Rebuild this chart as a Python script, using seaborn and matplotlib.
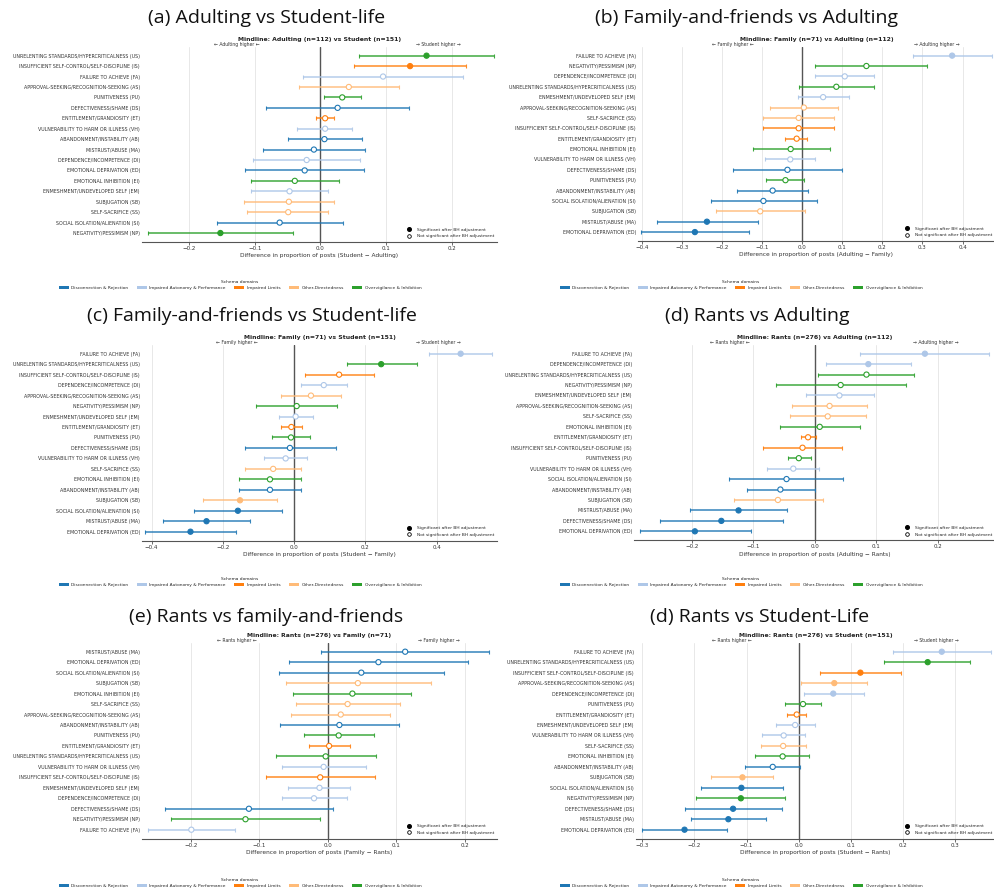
import numpy as np
import pandas as pd
import seaborn as sns
import matplotlib.pyplot as plt
from matplotlib.lines import Line2D
from matplotlib.patches import Patch
from matplotlib.ticker import MultipleLocator

names = {
    "US": "UNRELENTING STANDARDS/HYPERCRITICALNESS (US)",
    "IS": "INSUFFICIENT SELF-CONTROL/SELF-DISCIPLINE (IS)",
    "FA": "FAILURE TO ACHIEVE (FA)",
    "AS": "APPROVAL-SEEKING/RECOGNITION-SEEKING (AS)",
    "PU": "PUNITIVENESS (PU)",
    "DS": "DEFECTIVENESS/SHAME (DS)",
    "ET": "ENTITLEMENT/GRANDIOSITY (ET)",
    "VH": "VULNERABILITY TO HARM OR ILLNESS (VH)",
    "AB": "ABANDONMENT/INSTABILITY (AB)",
    "MA": "MISTRUST/ABUSE (MA)",
    "DI": "DEPENDENCE/INCOMPETENCE (DI)",
    "ED": "EMOTIONAL DEPRIVATION (ED)",
    "EI": "EMOTIONAL INHIBITION (EI)",
    "EM": "ENMESHMENT/UNDEVELOPED SELF (EM)",
    "SB": "SUBJUGATION (SB)",
    "SS": "SELF-SACRIFICE (SS)",
    "SI": "SOCIAL ISOLATION/ALIENATION (SI)",
    "NP": "NEGATIVITY/PESSIMISM (NP)",
}
domains = ["Disconnection & Rejection", "Impaired Autonomy & Performance",
           "Impaired Limits", "Other-Directedness", "Overvigilance & Inhibition"]
domain_codes = [["AB", "MA", "ED", "DS", "SI"], ["DI", "VH", "EM", "FA"],
                ["ET", "IS"], ["SB", "SS", "AS"], ["NP", "EI", "US", "PU"]]
domain_colors = ["#1f77b4", "#aec7e8", "#ff7f0e", "#ffbb78", "#2ca02c"]

# (a) Adulting vs Student
a_codes = ["US", "IS", "FA", "AS", "PU", "DS", "ET", "VH", "AB", "MA", "DI", "ED", "EI", "EM", "SB", "SS", "SI", "NP"]
a_diff = [0.161, 0.136, 0.095, 0.043, 0.033, 0.026, 0.007, 0.007, 0.006, -0.010, -0.021, -0.024, -0.039, -0.047, -0.048, -0.049, -0.062, -0.152]
a_lo = [0.059, 0.051, -0.026, -0.032, 0.005, -0.083, -0.007, -0.036, -0.050, -0.087, -0.102, -0.114, -0.106, -0.105, -0.116, -0.111, -0.157, -0.262]
a_hi = [0.264, 0.221, 0.216, 0.119, 0.062, 0.135, 0.020, 0.048, 0.063, 0.068, 0.060, 0.066, 0.028, 0.011, 0.021, 0.012, 0.034, -0.042]
a_sig = [1, 1, 0, 0, 0, 0, 0, 0, 0, 0, 0, 0, 0, 0, 0, 0, 0, 1]

# (b) Family vs Adulting
b_codes = ["FA", "NP", "DI", "US", "EM", "AS", "SS", "IS", "ET", "EI", "VH", "DS", "PU", "AB", "SI", "SB", "MA", "ED"]
b_diff = [0.374, 0.160, 0.106, 0.085, 0.052, 0.004, -0.009, -0.009, -0.014, -0.029, -0.030, -0.037, -0.042, -0.074, -0.097, -0.105, -0.238, -0.268]
b_lo = [0.276, 0.033, 0.033, -0.009, -0.011, -0.080, -0.098, -0.098, -0.042, -0.124, -0.092, -0.172, -0.090, -0.162, -0.228, -0.215, -0.362, -0.403]
b_hi = [0.474, 0.312, 0.180, 0.180, 0.116, 0.088, 0.078, 0.078, 0.013, 0.068, 0.033, 0.098, 0.005, 0.014, 0.037, 0.007, -0.110, -0.133]
b_sig = [1, 0, 0, 0, 0, 0, 0, 0, 0, 0, 0, 0, 0, 0, 0, 0, 1, 1]

# (c) Family vs Student
c_codes = ["FA", "US", "IS", "DI", "AS", "NP", "EM", "ET", "PU", "DS", "VH", "SS", "EI", "AB", "SB", "SI", "MA", "ED"]
c_diff = [0.467, 0.244, 0.126, 0.083, 0.047, 0.007, 0.004, -0.008, -0.009, -0.012, -0.024, -0.059, -0.068, -0.068, -0.152, -0.158, -0.246, -0.291]
c_lo = [0.379, 0.147, 0.030, 0.019, -0.036, -0.106, -0.044, -0.038, -0.063, -0.139, -0.084, -0.137, -0.154, -0.154, -0.255, -0.281, -0.368, -0.419]
c_hi = [0.556, 0.344, 0.223, 0.147, 0.131, 0.120, 0.053, 0.022, 0.044, 0.117, 0.037, 0.018, 0.019, 0.019, -0.049, -0.035, -0.124, -0.163]
c_sig = [1, 1, 0, 0, 0, 0, 0, 0, 0, 0, 0, 0, 0, 0, 1, 1, 1, 1]

# (d) Rants vs Adulting
d_codes = ["FA", "DI", "US", "NP", "EM", "AS", "SS", "EI", "ET", "IS", "PU", "VH", "SI", "AB", "SB", "MA", "DS", "ED"]
d_diff = [0.179, 0.087, 0.084, 0.042, 0.040, 0.024, 0.021, 0.008, -0.011, -0.020, -0.026, -0.035, -0.046, -0.056, -0.060, -0.124, -0.152, -0.195]
d_lo = [0.074, 0.019, 0.005, -0.063, -0.015, -0.037, -0.040, -0.057, -0.023, -0.085, -0.044, -0.077, -0.140, -0.111, -0.132, -0.203, -0.252, -0.285]
d_hi = [0.283, 0.156, 0.161, 0.148, 0.097, 0.085, 0.083, 0.073, 0.002, 0.045, -0.007, 0.007, 0.046, 0.000, 0.013, -0.045, -0.051, -0.103]
d_sig = [1, 1, 0, 0, 0, 0, 0, 0, 0, 0, 0, 0, 0, 0, 0, 1, 1, 1]

# (e) Rants vs Family
e_codes = ["MA", "ED", "SI", "SB", "EI", "SS", "AS", "AB", "PU", "ET", "US", "VH", "IS", "EM", "DI", "DS", "NP", "FA"]
e_diff = [0.113, 0.074, 0.049, 0.044, 0.036, 0.029, 0.019, 0.017, 0.016, 0.002, -0.003, -0.006, -0.011, -0.012, -0.020, -0.115, -0.120, -0.199]
e_lo = [-0.010, -0.056, -0.071, -0.061, -0.050, -0.047, -0.053, -0.069, -0.035, -0.028, -0.076, -0.067, -0.090, -0.058, -0.066, -0.238, -0.228, -0.262]
e_hi = [0.236, 0.204, 0.169, 0.150, 0.122, 0.106, 0.091, 0.104, 0.068, 0.033, 0.071, 0.056, 0.069, 0.033, 0.028, 0.007, -0.011, -0.135]
e_sig = [0] * 18

# (f) Rants vs Student
f_codes = ["FA", "US", "IS", "AS", "DI", "PU", "ET", "EM", "VH", "SS", "EI", "AB", "SB", "SI", "NP", "DS", "MA", "ED"]
f_diff = [0.274, 0.247, 0.118, 0.068, 0.066, 0.008, -0.004, -0.007, -0.029, -0.030, -0.031, -0.050, -0.108, -0.110, -0.111, -0.126, -0.135, -0.219]
f_lo = [0.180, 0.164, 0.041, 0.005, 0.010, -0.027, -0.022, -0.044, -0.070, -0.073, -0.083, -0.104, -0.168, -0.188, -0.197, -0.219, -0.206, -0.300]
f_hi = [0.369, 0.329, 0.195, 0.131, 0.124, 0.042, 0.014, 0.031, 0.012, 0.014, 0.020, 0.003, -0.050, -0.031, -0.026, -0.032, -0.063, -0.138]
f_sig = [1, 1, 1, 1, 1, 0, 0, 0, 0, 0, 0, 0, 1, 1, 1, 1, 1, 1]

panels = [
    dict(codes=a_codes, diff=a_diff, lo=a_lo, hi=a_hi, sig=a_sig,
         title="(a) Adulting vs Student-life",
         mind="Mindline: Adulting (n=112) vs Student (n=151)",
         left="\u2190 Adulting higher \u2190", right="\u2192 Student higher \u2192",
         xlabel="Difference in proportion of posts (Student \u2212 Adulting)",
         xlim=(-0.271, 0.268), step=0.1, box=(142, 46.7, 497, 242), tx=267, ty=18, leg=(240, 285)),
    dict(codes=b_codes, diff=b_diff, lo=b_lo, hi=b_hi, sig=b_sig,
         title="(b) Family-and-friends vs Adulting",
         mind="Mindline: Family (n=71) vs Adulting (n=112)",
         left="\u2190 Family higher \u2190", right="\u2192 Adulting higher \u2192",
         xlabel="Difference in proportion of posts (Adulting \u2212 Family)",
         xlim=(-0.41, 0.481), step=0.1, box=(638, 46.7, 995, 241), tx=747, ty=18, leg=(741, 285)),
    dict(codes=c_codes, diff=c_diff, lo=c_lo, hi=c_hi, sig=c_sig,
         title="(c) Family-and-friends vs Student-life",
         mind="Mindline: Family (n=71) vs Student (n=151)",
         left="\u2190 Family higher \u2190", right="\u2192 Student higher \u2192",
         xlabel="Difference in proportion of posts (Student \u2212 Family)",
         xlim=(-0.427, 0.569), step=0.2, box=(142, 344.7, 497, 540.7), tx=252, ty=316, leg=(240, 582)),
    dict(codes=d_codes, diff=d_diff, lo=d_lo, hi=d_hi, sig=d_sig,
         title="(d) Rants vs Adulting",
         mind="Mindline: Rants (n=276) vs Adulting (n=112)",
         left="\u2190 Rants higher \u2190", right="\u2192 Adulting higher \u2192",
         xlabel="Difference in proportion of posts (Adulting \u2212 Rants)",
         xlim=(-0.294, 0.293), step=0.1, box=(634, 344.7, 995, 540.3), tx=757, ty=316, leg=(741, 582)),
    dict(codes=e_codes, diff=e_diff, lo=e_lo, hi=e_hi, sig=e_sig,
         title="(e) Rants vs family-and-friends",
         mind="Mindline: Rants (n=276) vs Family (n=71)",
         left="\u2190 Rants higher \u2190", right="\u2192 Family higher \u2192",
         xlabel="Difference in proportion of posts (Family \u2212 Rants)",
         xlim=(-0.271, 0.247), step=0.1, box=(142, 642.7, 497, 838.7), tx=266, ty=617, leg=(240, 883)),
    dict(codes=f_codes, diff=f_diff, lo=f_lo, hi=f_hi, sig=f_sig,
         title="(d) Rants vs Student-Life",
         mind="Mindline: Rants (n=276) vs Student (n=151)",
         left="\u2190 Rants higher \u2190", right="\u2192 Student higher \u2192",
         xlabel="Difference in proportion of posts (Student \u2212 Rants)",
         xlim=(-0.312, 0.376), step=0.1, box=(636, 642.7, 995, 838.7), tx=760, ty=617, leg=(741, 883)),
]

W, H = 995, 890
sns.set_theme(style="white")
plt.rcParams["font.family"] = ["DejaVu Sans"]

code_domain = {c: d for d, cs in zip(domains, domain_codes) for c in cs}
palette = dict(zip(domains, domain_colors))

fig = plt.figure(figsize=(W / 100, H / 100), dpi=100)

for p in panels:
    l, t, r, b = p["box"]
    ax = fig.add_axes([l / W, 1 - b / H, (r - l) / W, (b - t) / H])
    df = pd.DataFrame({"code": p["codes"], "diff": p["diff"], "lo": p["lo"],
                       "hi": p["hi"], "sig": p["sig"]})
    df["y"] = np.arange(len(df))
    df["domain"] = df["code"].map(code_domain)
    df["label"] = df["code"].map(names)

    ax.axvline(0, color="#555555", lw=1.0, zorder=1)
    for _, row in df.iterrows():
        ax.errorbar(row["diff"], row["y"],
                    xerr=[[row["diff"] - row["lo"]], [row["hi"] - row["diff"]]],
                    fmt="none", ecolor=palette[row["domain"]], elinewidth=1.1,
                    capsize=1.6, capthick=0.8, alpha=0.9, zorder=2)

    sig = df[df["sig"] == 1]
    ns = df[df["sig"] == 0]
    if len(sig):
        sns.scatterplot(data=sig, x="diff", y="y", hue="domain", palette=palette,
                        s=14, legend=False, ax=ax, zorder=3, linewidth=0.8)
        pts = ax.collections[-1]
        pts.set_edgecolors(pts.get_facecolors())
    if len(ns):
        sns.scatterplot(data=ns, x="diff", y="y", hue="domain", palette=palette,
                        s=14, legend=False, ax=ax, zorder=3, linewidth=0.8)
        pts = ax.collections[-1]
        pts.set_edgecolors(pts.get_facecolors())
        pts.set_facecolors("white")

    ax.set_ylim(len(df) - 1 + 0.86, -0.86)
    ax.set_yticks(df["y"])
    ax.set_yticklabels(df["label"], fontsize=3.45, color="#333333")
    ax.set_xlim(*p["xlim"])
    ax.xaxis.set_major_locator(MultipleLocator(p["step"]))
    ax.tick_params(axis="x", labelsize=4.0, length=1.8, width=0.5, pad=1.2,
                   colors="#333333", bottom=True)
    ax.tick_params(axis="y", length=0, pad=1.5)
    ax.grid(axis="x", color="#e8e8e8", lw=0.7)
    ax.set_axisbelow(True)
    ax.set_xlabel(p["xlabel"], fontsize=4.2, labelpad=1.5, color="#333333")
    ax.set_ylabel("")
    sns.despine(ax=ax, left=True)
    ax.spines["bottom"].set_color("#555555")
    ax.spines["bottom"].set_linewidth(0.8)

    ax.text(0.5, 1.039, p["mind"], transform=ax.transAxes, ha="center", va="center",
            fontsize=4.4, fontweight="bold", color="#222222")
    ax.text(0.266, 1.009, p["left"], transform=ax.transAxes, ha="center", va="center",
            fontsize=3.3, color="#333333")
    ax.text(0.836, 1.009, p["right"], transform=ax.transAxes, ha="center", va="center",
            fontsize=3.3, color="#333333")

    handles = [
        Line2D([0], [0], marker="o", ls="none", color="black", markersize=2.6),
        Line2D([0], [0], marker="o", ls="none", color="black", mfc="white",
               markersize=2.6, markeredgewidth=0.6),
    ]
    ax.legend(handles, ["Significant after BH adjustment", "Not significant after BH adjustment"],
              loc="lower right", bbox_to_anchor=(1.0, 0.005), frameon=False,
              fontsize=3.2, handletextpad=0.8, borderaxespad=0.2, labelspacing=0.6)

    fig.text(p["tx"] / W, 1 - p["ty"] / H, p["title"], ha="center", va="center",
             fontsize=14, family=["Open Sans", "DejaVu Sans"], color="#111111")

    dom_handles = [Patch(facecolor=c, edgecolor="none") for c in domain_colors]
    fig.legend(dom_handles, domains, title="Schema domains", ncol=5, loc="center",
               bbox_to_anchor=(p["leg"][0] / W, 1 - p["leg"][1] / H), frameon=False,
               fontsize=3.2, title_fontsize=3.2, handlelength=2.3, handleheight=0.6,
               handletextpad=0.6, columnspacing=1.8)

fig.savefig("out.png", dpi=100, facecolor="white")
